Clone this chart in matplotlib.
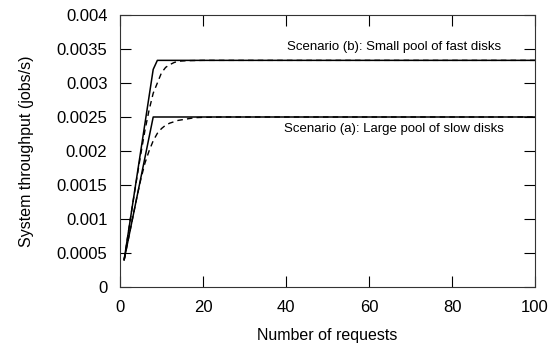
import matplotlib
matplotlib.use("Agg")
import matplotlib.pyplot as plt

# Data
req_solid_a = [1, 8, 100]
thr_solid_a = [0.0004, 0.0025, 0.0025]

req_solid_b = [1, 8, 9, 100]
thr_solid_b = [0.0004, 0.0032, 0.003333, 0.003333]

req_dash_a = [1, 2, 3, 4, 5, 6, 7, 8, 9, 10, 11, 12, 14, 16, 18, 20, 25, 100]
thr_dash_a = [0.0004, 0.0007, 0.001, 0.0013, 0.00158, 0.00182, 0.0020, 0.00215,
              0.00226, 0.00233, 0.00238, 0.00241, 0.00245, 0.00247, 0.00249,
              0.002495, 0.0025, 0.0025]

req_dash_b = [1, 2, 3, 4, 5, 6, 7, 8, 9, 10, 11, 12, 13, 14, 16, 20, 100]
thr_dash_b = [0.0004, 0.0008, 0.0012, 0.00158, 0.00195, 0.0023, 0.0026, 0.00285,
              0.0030, 0.00315, 0.00323, 0.00327, 0.0033, 0.00332, 0.003328,
              0.003333, 0.003333]

x_ticks = [0, 20, 40, 60, 80, 100]
y_ticks = [0, 0.0005, 0.001, 0.0015, 0.002, 0.0025, 0.003, 0.0035, 0.004]
y_tick_labels = ["0", "0.0005", "0.001", "0.0015", "0.002", "0.0025", "0.003", "0.0035", "0.004"]

label_b = "Scenario (b): Small pool of fast disks"
label_a = "Scenario (a): Large pool of slow disks"

plt.rcParams['font.family'] = ['Liberation Sans', 'DejaVu Sans']

fig = plt.figure(figsize=(5.49, 3.45), dpi=100)
ax = fig.add_axes([120/549, 58/345, 415/549, 272/345])

ax.plot(req_solid_a, thr_solid_a, color='black', lw=1.1)
ax.plot(req_solid_b, thr_solid_b, color='black', lw=1.1)
ax.plot(req_dash_a, thr_dash_a, color='black', lw=1.0, linestyle=(0, (4, 3)))
ax.plot(req_dash_b, thr_dash_b, color='black', lw=1.0, linestyle=(0, (4, 3)))

ax.set_xlim(0, 100)
ax.set_ylim(0, 0.004)
ax.set_xticks(x_ticks)
ax.set_yticks(y_ticks)
ax.set_yticklabels(y_tick_labels)
ax.tick_params(direction='in', length=8, width=0.8, top=True, right=True,
               labelsize=12, pad=9, colors='black')
for sp in ax.spines.values():
    sp.set_linewidth(0.8)
    sp.set_color('#333333')

ax.set_xlabel("Number of requests", fontsize=11.5, labelpad=10)
ax.set_ylabel("System throughput (jobs/s)", fontsize=11.5, labelpad=16)

ax.text(66, 0.00353, label_b, fontsize=9.5, ha='center', va='center')
ax.text(66, 0.00232, label_a, fontsize=9.5, ha='center', va='center')

fig.savefig("out.png", dpi=100)
